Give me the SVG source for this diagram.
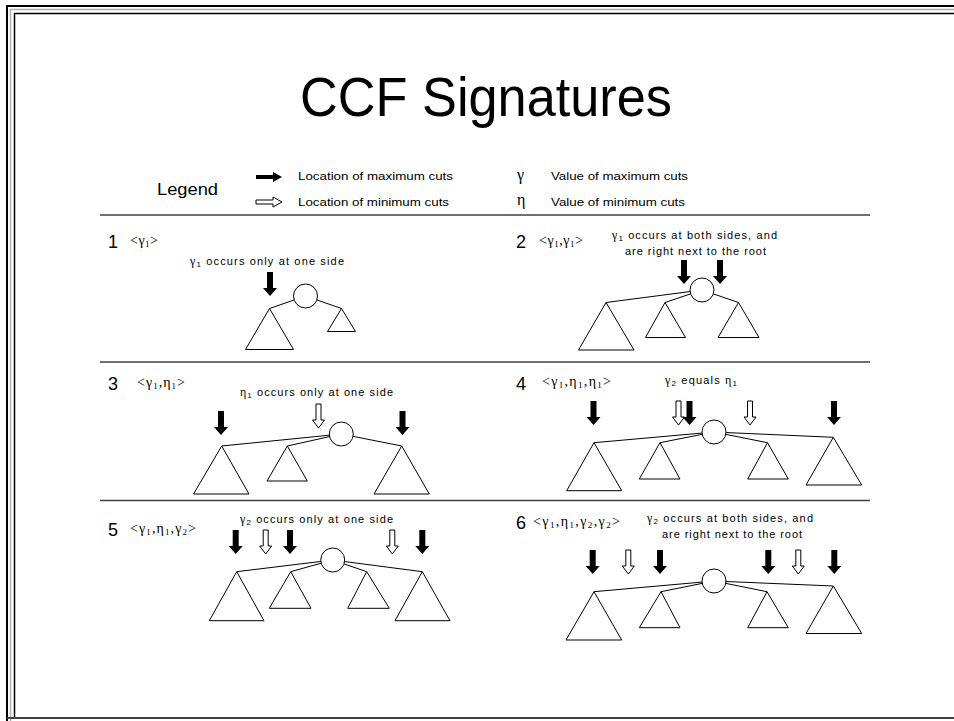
<svg xmlns="http://www.w3.org/2000/svg" xmlns:xlink="http://www.w3.org/1999/xlink" width="954" height="721" viewBox="0 0 954 721">
<style>
text{font-family:"Liberation Sans",Arial,sans-serif;fill:#000}
.t{font-size:11px}
.num{font-size:18px}
.tag{font-family:"Liberation Serif","Times New Roman",serif;font-size:14px}
.sym{font-family:"Liberation Serif","Times New Roman",serif}
.tri{fill:#fff;stroke:#000;stroke-width:1}
.root{fill:#fff;stroke:#000;stroke-width:1}
.edge{stroke:#000;stroke-width:1;fill:none}
.sep{stroke:#404040;stroke-width:1.5}
</style>
<defs>
<path id="ab" d="M-3,0 H3 V16 H7 L0,24 L-7,16 H-3 Z" fill="#000"/>
<path id="aw" d="M-2.5,0 H2.5 V16 H6 L0,24 L-6,16 H-2.5 Z" fill="#fff" stroke="#000" stroke-width="1"/>
</defs>
<rect width="954" height="721" fill="#fff"/>
<g id="frame" fill="none">
<path d="M7,721 V6 H954" stroke="#000" stroke-width="2"/>
<path d="M10.5,721 V9.5 H954" stroke="#b0b0b0" stroke-width="1.5"/>
<path d="M14.5,717 V13.5 H954" stroke="#000" stroke-width="1.5"/>
<line x1="7" y1="718" x2="954" y2="718" stroke="#404040" stroke-width="2"/>
</g>
<text id="title" x="486" y="116" text-anchor="middle" font-size="56" textLength="372" lengthAdjust="spacingAndGlyphs">CCF Signatures</text>
<g id="legend">
<text x="157" y="195" font-size="16" textLength="61" lengthAdjust="spacingAndGlyphs">Legend</text>
<path d="M256,175 H273 V172 L282,177 L273,182 V179 H256 Z" fill="#000"/>
<path d="M256,200 H273 V197 L282,202 L273,207 V204 H256 Z" fill="#fff" stroke="#000" stroke-width="1"/>
<text class="t" x="298" y="180" textLength="155" lengthAdjust="spacingAndGlyphs">Location of maximum cuts</text>
<text class="t" x="298" y="205.5" textLength="151" lengthAdjust="spacingAndGlyphs">Location of minimum cuts</text>
<text class="sym" x="517" y="180" font-size="16">γ</text>
<text class="sym" x="517" y="205" font-size="16">η</text>
<text class="t" x="551" y="180" textLength="137" lengthAdjust="spacingAndGlyphs">Value of maximum cuts</text>
<text class="t" x="551" y="205.5" textLength="134" lengthAdjust="spacingAndGlyphs">Value of minimum cuts</text>
</g>
<g id="separators">
<line class="sep" x1="100" y1="215" x2="870" y2="215"/>
<line class="sep" x1="100" y1="362" x2="870" y2="362"/>
<line class="sep" x1="100" y1="500.5" x2="870" y2="500.5"/>
</g>

<!-- Panel 1 -->
<g id="panel1">
<text class="num" x="108" y="248">1</text>
<text class="tag" x="130" y="245" textLength="28">&lt;γ<tspan font-size="9" dy="2">1</tspan><tspan dy="-2">&gt;</tspan></text>
<text class="t" x="190" y="264.5" textLength="154"><tspan class="sym" font-size="12">γ</tspan><tspan font-size="8" dy="2">1</tspan><tspan dy="-2"> occurs only at one side</tspan></text>
<g id="p1-edges">
<line class="edge" x1="305.5" y1="296" x2="269.5" y2="308.5"/>
<line class="edge" x1="305.5" y1="296" x2="341.5" y2="308.5"/>
</g>
<g id="p1-root"><circle class="root" cx="305.5" cy="296" r="12"/></g>
<g id="p1-t1"><polygon class="tri" points="269.5,308.5 293.5,349.5 245.5,349.5"/></g>
<g id="p1-t2"><polygon class="tri" points="341.5,308.5 355.5,331.5 327.5,331.5"/></g>
<g id="p1-cuts"><use xlink:href="#ab" x="270" y="272"/></g>
</g>

<!-- Panel 2 -->
<g id="panel2">
<text class="num" x="516" y="248">2</text>
<text class="tag" x="539" y="245" textLength="44">&lt;γ<tspan font-size="9" dy="2">1</tspan><tspan dy="-2">,γ</tspan><tspan font-size="9" dy="2">1</tspan><tspan dy="-2">&gt;</tspan></text>
<text class="t" x="612" y="239" textLength="165"><tspan class="sym" font-size="12">γ</tspan><tspan font-size="8" dy="2">1</tspan><tspan dy="-2"> occurs at both sides, and</tspan></text>
<text class="t" x="625" y="255" textLength="141">are right next to the root</text>
<g id="p2-edges">
<line class="edge" x1="702" y1="290" x2="606" y2="302.5"/>
<line class="edge" x1="702" y1="290" x2="665" y2="302.5"/>
<line class="edge" x1="702" y1="290" x2="738.5" y2="302.5"/>
</g>
<g id="p2-root"><circle class="root" cx="702" cy="290" r="12"/></g>
<g id="p2-t1"><polygon class="tri" points="606,302.5 634,350 578.5,350"/></g>
<g id="p2-t2"><polygon class="tri" points="665,302.5 685.5,337.5 645.5,337.5"/></g>
<g id="p2-t3"><polygon class="tri" points="738.5,302.5 759,337.5 718,337.5"/></g>
<g id="p2-cuts"><use xlink:href="#ab" x="684" y="260"/><use xlink:href="#ab" x="720" y="260"/></g>
</g>

<!-- Panel 3 -->
<g id="panel3">
<text class="num" x="108" y="390">3</text>
<text class="tag" x="137" y="387" textLength="48">&lt;γ<tspan font-size="9" dy="2">1</tspan><tspan dy="-2">,η</tspan><tspan font-size="9" dy="2">1</tspan><tspan dy="-2">&gt;</tspan></text>
<text class="t" x="240" y="396" textLength="153"><tspan class="sym" font-size="12">η</tspan><tspan font-size="8" dy="2">1</tspan><tspan dy="-2"> occurs only at one side</tspan></text>
<g id="p3-edges">
<line class="edge" x1="341.3" y1="434" x2="221.7" y2="446"/>
<line class="edge" x1="341.3" y1="434" x2="287.3" y2="446"/>
<line class="edge" x1="341.3" y1="434" x2="401.7" y2="446"/>
</g>
<g id="p3-root"><circle class="root" cx="341.3" cy="434" r="12"/></g>
<g id="p3-t1"><polygon class="tri" points="221.7,446 249,494 193.5,494"/></g>
<g id="p3-t2"><polygon class="tri" points="287.3,446 307.3,481 267,481"/></g>
<g id="p3-t3"><polygon class="tri" points="401.7,446 429.3,494 374,494"/></g>
<g id="p3-cuts"><use xlink:href="#ab" x="221" y="411"/><use xlink:href="#aw" x="318.5" y="404"/><use xlink:href="#ab" x="402.5" y="411"/></g>
</g>

<!-- Panel 4 -->
<g id="panel4">
<text class="num" x="516" y="390">4</text>
<text class="tag" x="542" y="386" textLength="69">&lt;γ<tspan font-size="9" dy="2">1</tspan><tspan dy="-2">,η</tspan><tspan font-size="9" dy="2">1</tspan><tspan dy="-2">,η</tspan><tspan font-size="9" dy="2">1</tspan><tspan dy="-2">&gt;</tspan></text>
<text class="t" x="665" y="384" textLength="72"><tspan class="sym" font-size="12">γ</tspan><tspan font-size="8" dy="2">2</tspan><tspan dy="-2"> equals </tspan><tspan class="sym" font-size="12">η</tspan><tspan font-size="8" dy="2">1</tspan></text>
<g id="p4-edges">
<line class="edge" x1="714" y1="432" x2="594" y2="442.7"/>
<line class="edge" x1="714" y1="432" x2="660" y2="442.7"/>
<line class="edge" x1="714" y1="432" x2="767.5" y2="442.7"/>
<line class="edge" x1="714" y1="432" x2="833.3" y2="437.3"/>
</g>
<g id="p4-root"><circle class="root" cx="714" cy="432" r="12"/></g>
<g id="p4-t1"><polygon class="tri" points="594,442.7 621.7,490.7 566.7,490.7"/></g>
<g id="p4-t2"><polygon class="tri" points="660,442.7 680,479 639.3,479"/></g>
<g id="p4-t3"><polygon class="tri" points="767.5,442.7 788.3,479 747.7,479"/></g>
<g id="p4-t4"><polygon class="tri" points="833.3,437.3 861.7,485 806,485"/></g>
<g id="p4-cuts"><use xlink:href="#ab" x="593.5" y="401"/><use xlink:href="#aw" x="678.5" y="401"/><use xlink:href="#ab" x="689.5" y="401"/><use xlink:href="#aw" x="750" y="401"/><use xlink:href="#ab" x="834" y="401"/></g>
</g>

<!-- Panel 5 -->
<g id="panel5">
<text class="num" x="108" y="536">5</text>
<text class="tag" x="130" y="533" textLength="66">&lt;γ<tspan font-size="9" dy="2">1</tspan><tspan dy="-2">,η</tspan><tspan font-size="9" dy="2">1</tspan><tspan dy="-2">,γ</tspan><tspan font-size="9" dy="2">2</tspan><tspan dy="-2">&gt;</tspan></text>
<text class="t" x="240" y="523" textLength="153"><tspan class="sym" font-size="12">γ</tspan><tspan font-size="8" dy="2">2</tspan><tspan dy="-2"> occurs only at one side</tspan></text>
<g id="p5-edges">
<line class="edge" x1="332.7" y1="560" x2="236.7" y2="571.7"/>
<line class="edge" x1="332.7" y1="560" x2="290.7" y2="571.7"/>
<line class="edge" x1="332.7" y1="560" x2="366.7" y2="571.7"/>
<line class="edge" x1="332.7" y1="560" x2="422.3" y2="571.7"/>
</g>
<g id="p5-root"><circle class="root" cx="332.7" cy="560" r="12"/></g>
<g id="p5-t1"><polygon class="tri" points="236.7,571.7 264,620.7 209.3,620.7"/></g>
<g id="p5-t2"><polygon class="tri" points="290.7,571.7 311,608.3 269.3,608.3"/></g>
<g id="p5-t3"><polygon class="tri" points="366.7,571.7 389.3,608.3 347.7,608.3"/></g>
<g id="p5-t4"><polygon class="tri" points="422.3,571.7 450,620.7 395,620.7"/></g>
<g id="p5-cuts"><use xlink:href="#ab" x="235.7" y="530"/><use xlink:href="#aw" x="265.7" y="530"/><use xlink:href="#ab" x="290" y="530"/><use xlink:href="#aw" x="392.3" y="530"/><use xlink:href="#ab" x="422.3" y="530"/></g>
</g>

<!-- Panel 6 -->
<g id="panel6">
<text class="num" x="516" y="529">6</text>
<text class="tag" x="533" y="526" textLength="87">&lt;γ<tspan font-size="9" dy="2">1</tspan><tspan dy="-2">,η</tspan><tspan font-size="9" dy="2">1</tspan><tspan dy="-2">,γ</tspan><tspan font-size="9" dy="2">2</tspan><tspan dy="-2">,γ</tspan><tspan font-size="9" dy="2">2</tspan><tspan dy="-2">&gt;</tspan></text>
<text class="t" x="647" y="521.5" textLength="166"><tspan class="sym" font-size="12">γ</tspan><tspan font-size="8" dy="2">2</tspan><tspan dy="-2"> occurs at both sides, and</tspan></text>
<text class="t" x="662" y="538" textLength="140">are right next to the root</text>
<g id="p6-edges">
<line class="edge" x1="714" y1="581" x2="594" y2="591.7"/>
<line class="edge" x1="714" y1="581" x2="661" y2="591.7"/>
<line class="edge" x1="714" y1="581" x2="767" y2="591.7"/>
<line class="edge" x1="714" y1="581" x2="833.3" y2="586"/>
</g>
<g id="p6-root"><circle class="root" cx="714" cy="581" r="12"/></g>
<g id="p6-t1"><polygon class="tri" points="594,591.7 621.7,640 566,640"/></g>
<g id="p6-t2"><polygon class="tri" points="661,591.7 680,627.7 639.3,627.7"/></g>
<g id="p6-t3"><polygon class="tri" points="767,591.7 788.3,627.7 747.7,627.7"/></g>
<g id="p6-t4"><polygon class="tri" points="833.3,586 861.7,633.5 806,633.5"/></g>
<g id="p6-cuts"><use xlink:href="#ab" x="592.7" y="550"/><use xlink:href="#aw" x="628.3" y="550"/><use xlink:href="#ab" x="660" y="550"/><use xlink:href="#ab" x="768.3" y="550"/><use xlink:href="#aw" x="798.3" y="550"/><use xlink:href="#ab" x="834.3" y="550"/></g>
</g>
</svg>
